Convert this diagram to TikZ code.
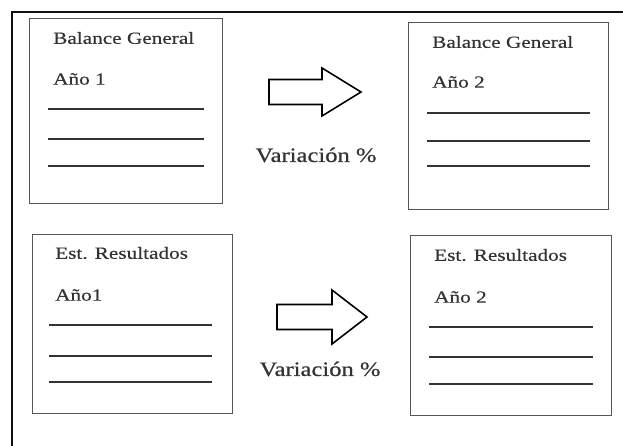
\documentclass[tikz,border=0pt]{standalone}
\usepackage{fontspec}
\setmainfont{Liberation Serif}
\newfontfamily\boxfont[FakeStretch=1.25,FakeBold=0.4]{Liberation Serif}
\newfontfamily\varfont[FakeStretch=1.2,FakeBold=0.5]{Liberation Serif}
\usetikzlibrary{positioning}
\definecolor{Frame}{HTML}{111111}
\definecolor{Sheet}{HTML}{555555}
\definecolor{Row}{HTML}{333333}
\tikzset{
  sheet/.style={draw=Sheet,fill=white,line width=1.4pt,anchor=north west,inner sep=0pt},
  title/.style={anchor=west,inner sep=0pt,font=\boxfont\fontsize{17}{20}\selectfont,text=black!80},
  row/.style={draw=Row,line width=1.5pt},
  fatarrow/.style={draw=black,line width=1.6pt,fill=white,line join=miter},
  varlabel/.style={inner sep=0pt,font=\varfont\fontsize{20.5}{24}\selectfont,text=black!80}
}
\begin{document}
\begin{tikzpicture}[x=1pt,y=-1pt]
  \useasboundingbox (0,0) rectangle (623,446);
  % outer frame, cut by the page edge
  \draw[draw=Frame,line width=2pt] (12,446) -- (12,12) -- (623,12);

  % top row: balance general
  \node[sheet,minimum width=193pt,minimum height=185pt] (bg1) at (29,18) {};
  \node[title] (bg1t) at (53,38) {Balance General};
  \node[title] (bg1y) at (53,79) {Año 1};
  \foreach \y in {109,139,166} \draw[row] (48,\y) -- (204,\y);

  \node[sheet,minimum width=200pt,minimum height=187pt] (bg2) at (408,22) {};
  \node[title] (bg2t) at (432,42) {Balance General};
  \node[title] (bg2y) at (432,82) {Año 2};
  \foreach \y in {113,141,166} \draw[row] (427,\y) -- (590,\y);

  \coordinate (a1) at (269,92);
  \draw[fatarrow] (a1) ++(0,-12.5) -- ++(53,0) -- ++(0,-11.5) -- ++(39,24) -- ++(-39,24)
    -- ++(0,-11.5) -- ++(-53,0) -- cycle;
  \node[varlabel] (v1) at (316,155) {Variación \%};

  % bottom row: estado de resultados
  \node[sheet,minimum width=200pt,minimum height=179pt] (er1) at (32,234) {};
  \node[title] (er1t) at (55,253) {Est. Resultados};
  \node[title] (er1y) at (55,295) {Año1};
  \foreach \y in {325,356,382} \draw[row] (49,\y) -- (212,\y);

  \node[sheet,minimum width=201pt,minimum height=180pt] (er2) at (410,235) {};
  \node[title] (er2t) at (434,255) {Est. Resultados};
  \node[title] (er2y) at (434,297) {Año 2};
  \foreach \y in {327,357,384} \draw[row] (429,\y) -- (593,\y);

  \coordinate (a2) at (277,317);
  \draw[fatarrow] (a2) ++(0,-12.5) -- ++(55,0) -- ++(0,-14.5) -- ++(35,27) -- ++(-35,27)
    -- ++(0,-14.5) -- ++(-55,0) -- cycle;
  \node[varlabel] (v2) at (320,369) {Variación \%};
\end{tikzpicture}
\end{document}
